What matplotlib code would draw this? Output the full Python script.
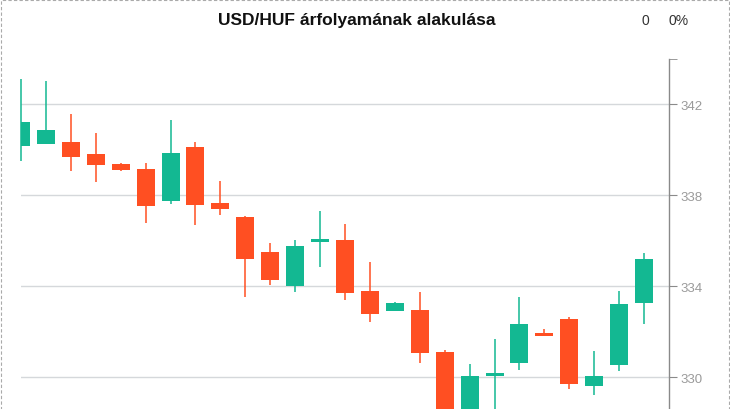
"""
USD/HUF candlestick chart (daily OHLC).

Usage:
    python plot.py
"""

import matplotlib.pyplot as plt
from matplotlib.patches import Rectangle

# OHLC values, oldest first
opens = [340.17, 340.24, 340.33, 339.80, 339.36, 339.14, 337.75, 340.11, 337.65,
         337.03, 335.49, 334.01, 335.95, 336.02, 333.78, 332.91, 332.95, 331.10,
         328.20, 330.06, 330.63, 331.93, 332.56, 329.62, 330.54, 333.27]
highs = [343.10, 343.05, 341.56, 340.73, 339.41, 339.41, 341.30, 340.33, 338.62,
         337.09, 335.89, 336.02, 337.30, 336.73, 335.05, 333.30, 333.74, 331.19,
         330.57, 331.67, 333.52, 332.11, 332.65, 331.14, 333.79, 335.45]
lows = [339.51, 340.24, 339.07, 338.58, 339.07, 336.77, 337.62, 336.69, 337.13,
        333.53, 334.06, 333.75, 334.85, 333.40, 332.43, 332.91, 330.63, 327.50,
        327.80, 328.30, 330.32, 331.82, 329.49, 329.22, 330.28, 332.34]
closes = [341.21, 340.86, 339.68, 339.33, 339.11, 337.53, 339.85, 337.57, 337.40,
          335.19, 334.28, 335.76, 336.07, 333.71, 332.78, 333.25, 331.07, 328.00,
          330.04, 330.18, 332.33, 331.82, 329.71, 330.04, 333.21, 335.19]

y_ticks = [330, 334, 338, 342]

TITLE = "USD/HUF árfolyamának alakulása"
UP = "#13b892"
DOWN = "#ff4f22"


def main() -> None:
    plt.rcParams["font.family"] = ["Liberation Sans", "DejaVu Sans"]

    fig = plt.figure(figsize=(7.3, 4.1), dpi=100)
    # plot area runs past the bottom edge, like the cropped original
    ax = fig.add_axes([21 / 730, 1 - 469 / 410, 648 / 730, 409 / 410])

    for i, (o, h, l, c) in enumerate(zip(opens, highs, lows, closes)):
        col = UP if c >= o else DOWN
        # wicks left unclipped so the first one shows in full at the edge
        ax.vlines(i, l, h, color=col, linewidth=1.1, zorder=2, clip_on=False)
        ax.bar(i, abs(c - o), width=0.72, bottom=min(o, c), color=col,
               linewidth=0, zorder=3)

    ax.set_xlim(0, 26)
    ax.set_ylim(326, 344)

    for side in ("top", "left", "bottom"):
        ax.spines[side].set_visible(False)
    ax.spines["right"].set_color("#8a8a8a")
    ax.spines["right"].set_linewidth(1.0)

    ax.set_xticks([])
    ax.yaxis.tick_right()
    ax.set_yticks(y_ticks)
    ax.set_yticks([344], minor=True)
    ax.tick_params(axis="y", which="both", direction="out", length=6,
                   color="#8a8a8a", labelcolor="#9a9a9a", labelsize=9.5, pad=2)
    ax.grid(True, axis="y", which="major", color="#d5d8db", linewidth=1.0,
            zorder=0)
    ax.set_axisbelow(True)

    fig.text(0.489, 0.949, TITLE, ha="center", va="center", fontsize=12.5,
             fontweight="bold", color="#111111")
    fig.text(645 / 730, 0.949, "0", ha="center", va="center", fontsize=10,
             color="#333333")
    fig.text(679 / 730, 0.949, "0%", ha="center", va="center", fontsize=10,
             color="#333333")

    # dashed frame around the whole widget
    fig.patches.append(Rectangle((0.5 / 730, -0.5), 728 / 730, 1.4985,
                                 transform=fig.transFigure, fill=False,
                                 edgecolor="#aaaaaa", linestyle=(0, (3, 2)),
                                 linewidth=0.8))

    fig.savefig("out.png", dpi=100)
    plt.close(fig)


if __name__ == "__main__":
    main()
